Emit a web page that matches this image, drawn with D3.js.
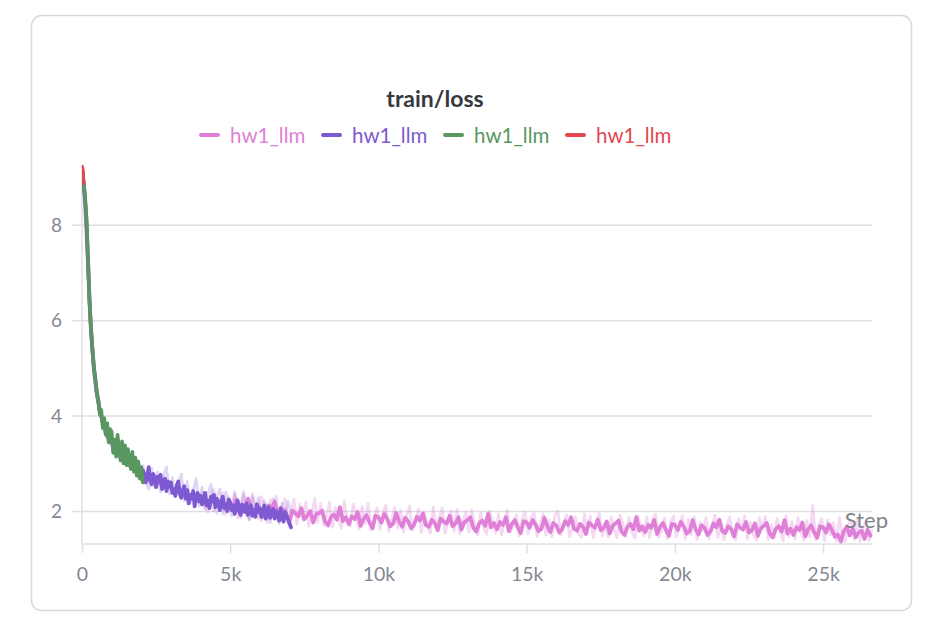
<!DOCTYPE html>
<html><head><meta charset="utf-8">
<script src="https://cdn.jsdelivr.net/npm/d3@7"></script>
<style>
body{margin:0;background:#fff;}
svg text{font-family: Lato, "Noto Sans", "DejaVu Sans", sans-serif;}
</style>
</head><body>
<svg id="chart" width="930" height="640"></svg>
<script>
// ---------------- data ----------------
const chartTitle = "train/loss";
const seriesNames = ["hw1_llm", "hw1_llm", "hw1_llm", "hw1_llm"];
const seriesColors = ["#df7fd8", "#7d5ad2", "#589860", "#e2484e"];
const xTicks = [0, 5000, 10000, 15000, 20000, 25000];
const xTickLabels = ["0", "5k", "10k", "15k", "20k", "25k"];
const yTicks = [2, 4, 6, 8];
const yTickLabels = ["2", "4", "6", "8"];
const xAxisLabel = "Step";

// pink run: main line, one value every 100 steps from step 0
const pinkStart = 0, pinkStride = 100;
const pinkLoss = [
 9.2, 8.5, 7.2, 5.8, 4.95, 4.45, 4.1, 3.85, 3.62, 3.5,
 3.4, 3.3, 3.2, 3.12, 3.05, 3.0, 2.95, 2.9, 2.85, 2.8,
 2.75, 2.72, 2.68, 2.66, 2.62, 2.6, 2.58, 2.55, 2.52, 2.5,
 2.48, 2.45, 2.44, 2.4, 2.38, 2.36, 2.33, 2.32, 2.3, 2.28,
 2.26, 2.25, 2.23, 2.2, 2.22, 2.18, 2.16, 2.2, 2.12, 2.15,
 2.15, 2.05, 2.24, 2.13, 1.98, 2.04, 2.26, 2.06, 1.94, 2.14,
 2.04, 1.88, 1.95, 2.12, 2.05, 2.2, 1.92, 1.87, 2.03, 1.94,
 1.77, 2.01, 1.95, 1.89, 2.06, 1.83, 1.9, 2.0, 1.76, 1.94,
 1.95, 2.01, 1.78, 1.7, 1.88, 1.93, 1.82, 2.08, 1.79, 1.87,
 1.73, 1.89, 1.83, 1.98, 1.69, 1.84, 1.91, 1.76, 1.64, 1.9,
 1.87, 1.76, 1.94, 1.83, 1.68, 1.74, 1.96, 1.78, 1.67, 1.86,
 1.79, 1.64, 1.71, 1.88, 1.8, 1.95, 1.71, 1.67, 1.82, 1.75,
 1.6, 1.84, 1.78, 1.74, 1.9, 1.68, 1.74, 1.87, 1.61, 1.77,
 1.81, 1.87, 1.65, 1.57, 1.74, 1.8, 1.69, 1.94, 1.66, 1.75,
 1.62, 1.77, 1.71, 1.87, 1.58, 1.73, 1.81, 1.66, 1.54, 1.79,
 1.76, 1.65, 1.81, 1.72, 1.58, 1.63, 1.86, 1.68, 1.56, 1.75,
 1.7, 1.55, 1.62, 1.79, 1.71, 1.87, 1.63, 1.59, 1.73, 1.67,
 1.52, 1.76, 1.7, 1.65, 1.82, 1.6, 1.65, 1.78, 1.53, 1.69,
 1.74, 1.8, 1.57, 1.5, 1.67, 1.73, 1.62, 1.87, 1.59, 1.68,
 1.56, 1.71, 1.65, 1.81, 1.52, 1.67, 1.75, 1.6, 1.48, 1.73,
 1.71, 1.6, 1.77, 1.67, 1.53, 1.58, 1.81, 1.62, 1.51, 1.7,
 1.65, 1.5, 1.57, 1.74, 1.66, 1.82, 1.58, 1.54, 1.68, 1.62,
 1.47, 1.72, 1.65, 1.61, 1.77, 1.55, 1.6, 1.74, 1.48, 1.64,
 1.69, 1.75, 1.53, 1.45, 1.62, 1.68, 1.57, 1.81, 1.53, 1.63,
 1.5, 1.66, 1.6, 1.76, 1.47, 1.62, 1.7, 1.55, 1.44, 1.68,
 1.66, 1.55, 1.72, 1.6, 1.46, 1.51, 1.36, 1.58, 1.67, 1.49,
 1.63, 1.45, 1.55, 1.59, 1.42, 1.61, 1.48
];
// pink run: raw (faint) values, every 100 steps from step 4050
const pinkRawStart = 4050, pinkRawStride = 100;
const pinkRawLoss = [
 2.42, 2.1, 1.98, 2.36, 2.46, 1.95, 2.2, 2.38, 1.92, 2.3,
 2.04, 2.4, 1.86, 2.18, 2.34, 1.9, 1.82, 2.36, 2.12, 1.84,
 2.3, 2.02, 1.76, 2.24, 1.96, 2.32, 1.78, 2.1, 2.26, 1.74,
 1.98, 2.25, 1.72, 2.14, 1.8, 2.2, 1.68, 1.94, 2.26, 1.76,
 2.16, 1.7, 1.9, 2.18, 1.66, 2.08, 1.84, 1.64, 2.2, 1.78,
 1.68, 2.14, 1.92, 1.62, 2.1, 1.74, 2.16, 1.6, 1.86, 2.06,
 1.62, 1.95, 2.12, 1.58, 1.82, 2.08, 1.64, 2.02, 1.56, 1.9,
 2.1, 1.6, 1.84, 2.04, 1.55, 1.96, 1.7, 1.54, 2.08, 1.64,
 1.86, 2.06, 1.54, 1.78, 2.0, 1.58, 2.04, 1.52, 1.8, 1.98,
 1.56, 2.02, 1.74, 1.5, 1.96, 1.64, 1.52, 2.0, 1.78, 1.54,
 1.94, 1.5, 1.8, 2.02, 1.56, 1.7, 1.92, 1.48, 1.84, 1.98,
 1.52, 1.86, 1.96, 1.47, 1.72, 1.94, 1.5, 1.82, 1.46, 1.9,
 2.0, 1.5, 1.76, 1.92, 1.46, 1.66, 1.88, 1.52, 1.45, 1.94,
 1.6, 1.9, 1.44, 1.78, 1.95, 1.48, 1.7, 1.46, 1.88, 1.62,
 1.44, 1.92, 1.72, 1.46, 1.86, 1.56, 1.43, 1.9, 1.68, 1.48,
 1.88, 1.44, 1.8, 1.94, 1.45, 1.6, 1.86, 1.42, 1.74, 1.9,
 1.46, 1.7, 1.9, 1.42, 1.82, 1.5, 1.88, 1.41, 1.76, 1.6,
 1.86, 1.42, 1.66, 1.92, 1.44, 1.8, 1.4, 1.7, 1.88, 1.48,
 1.4, 1.84, 1.62, 1.9, 1.42, 1.76, 1.5, 1.39, 1.86, 1.64,
 1.88, 1.4, 1.72, 1.44, 1.84, 1.58, 1.38, 1.9, 1.46, 1.78,
 1.42, 1.86, 1.56, 1.39, 1.8, 1.46, 2.12, 1.4, 1.7, 1.84,
 1.38, 1.82, 1.5, 1.76, 1.37, 1.86, 1.44, 1.36, 1.72, 1.8,
 1.4, 1.84, 1.37, 1.66, 1.78, 1.38, 1.6
];

// purple run: every 50 steps from step 0
const purpleStart = 0, purpleStride = 50;
const purpleLoss = [
 9.2, 8.9, 8.58, 8.1, 7.32, 6.42, 5.86, 5.4, 5.04, 4.74,
 4.5, 4.32, 4.1, 4.0, 3.86, 3.82, 3.7, 3.68, 3.58, 3.55,
 3.45, 3.44, 3.35, 3.36, 3.25, 3.3, 3.18, 3.24, 3.12, 3.15,
 3.05, 3.12, 3.0, 3.04, 2.92, 2.98, 2.86, 2.92, 2.8, 2.86,
 2.68, 2.86, 2.78, 2.6, 2.72, 2.92, 2.64, 2.56, 2.78, 2.68,
 2.5, 2.72, 2.62, 2.76, 2.46, 2.56, 2.68, 2.42, 2.62, 2.52,
 2.6, 2.38, 2.46, 2.32, 2.54, 2.62, 2.36, 2.28, 2.44, 2.52,
 2.26, 2.44, 2.16, 2.34, 2.26, 2.42, 2.1, 2.3, 2.38, 2.2,
 2.32, 2.14, 2.24, 2.38, 2.12, 2.22, 2.06, 2.3, 2.2, 2.34,
 2.08, 2.26, 2.16, 2.02, 2.2, 2.3, 2.06, 2.14, 2.0, 2.24,
 2.18, 2.02, 2.12, 1.94, 2.08, 2.22, 2.0, 1.92, 2.14, 2.06,
 1.98, 2.16, 1.92, 2.06, 2.12, 1.9, 2.02, 1.88, 2.14, 1.98,
 2.06, 1.88, 1.98, 2.12, 1.84, 1.96, 2.08, 1.86, 1.94, 2.04,
 1.84, 2.0, 1.92, 1.8, 2.06, 1.88, 1.78, 1.98, 1.9, 1.82,
 1.74, 1.66
];
// purple run: raw (faint) values, every 100 steps from step 2050
const purpleRawStart = 2050, purpleRawStride = 100;
const purpleRawLoss = [
 2.98, 2.6, 2.46, 2.9, 2.5, 2.82, 2.4, 2.74, 2.92, 2.36,
 2.7, 2.3, 2.56, 2.78, 2.22, 2.62, 2.16, 2.44, 2.68, 2.1,
 2.5, 2.04, 2.38, 2.56, 2.0, 2.3, 2.46, 1.94, 2.4, 2.12,
 1.9, 2.36, 2.18, 1.86, 2.4, 2.06, 1.82, 2.3, 1.96, 2.28,
 1.8, 2.22, 2.04, 1.76, 2.26, 1.94, 1.74, 2.16, 1.86, 2.2,
 1.95
];

// green run: every 50 steps from step 0
const greenStart = 0, greenStride = 50;
const greenLoss = [
 9.2, 8.92, 8.6, 8.12, 7.3, 6.45, 5.85, 5.42, 5.0, 4.8,
 4.45, 4.3, 4.02, 4.12, 3.74, 3.95, 3.6, 3.84, 3.44, 3.72,
 3.66, 3.22, 3.5, 3.14, 3.6, 3.3, 3.06, 3.46, 3.0, 3.38,
 2.96, 3.3, 3.06, 2.88, 3.24, 2.82, 3.12, 2.74, 3.04, 2.68,
 2.92, 2.6
];

// red run: every 10 steps from step 0
const redStart = 0, redStride = 10;
const redLoss = [9.18, 9.22, 9.19, 9.14, 9.05, 8.95, 8.86];

// ---------------- drawing ----------------
const svg = d3.select("#chart");
const plot = {left: 82, right: 872, top: 165, bottom: 544};

const x = d3.scaleLinear().domain([0, 26650]).range([plot.left, plot.right]);
const y = d3.scaleLinear().domain([1.31, 9.25]).range([plot.bottom, plot.top]);

// card
svg.append("rect")
  .attr("x", 31.5).attr("y", 15.5).attr("width", 880).attr("height", 595)
  .attr("rx", 10).attr("fill", "#fff").attr("stroke", "#d9d9dd").attr("stroke-width", 1.5);

const gridColor = "#e0e0e3";
const labelColor = "#858893";

// y grid + ticks
const yAxis = d3.axisLeft(y).tickValues(yTicks)
  .tickFormat((d, i) => yTickLabels[i])
  .tickSize(-(plot.right - plot.left)).tickPadding(10);
const gy = svg.append("g").attr("transform", `translate(${plot.left},0)`).call(yAxis);
gy.select(".domain").remove();
gy.selectAll(".tick line").attr("stroke", gridColor).attr("stroke-width", 1.5).attr("x1", -10);
gy.selectAll(".tick text").attr("fill", labelColor).attr("font-size", 19).attr("dx", -10).attr("dy", "0.34em");

// vertical axis line at x = 0
svg.append("line").attr("x1", x(0)).attr("x2", x(0))
  .attr("y1", plot.top).attr("y2", plot.bottom)
  .attr("stroke", gridColor).attr("stroke-width", 1.5);

// x axis
const xAxis = d3.axisBottom(x).tickValues(xTicks)
  .tickFormat((d, i) => xTickLabels[i]).tickSize(9).tickPadding(14);
const gx = svg.append("g").attr("transform", `translate(0,${plot.bottom})`).call(xAxis);
gx.select(".domain").attr("stroke", gridColor).attr("stroke-width", 1.5)
  .attr("d", `M${plot.left},0H${plot.right}`);
gx.selectAll(".tick line").attr("stroke", gridColor).attr("stroke-width", 1.5);
gx.selectAll(".tick text").attr("fill", labelColor).attr("font-size", 19.5);

// clip
svg.append("clipPath").attr("id", "clip").append("rect")
  .attr("x", plot.left).attr("y", plot.top - 10)
  .attr("width", plot.right - plot.left + 2).attr("height", plot.bottom - plot.top + 10);

const line = d3.line().x(d => x(d[0])).y(d => y(d[1]));
const toPts = (arr, start, stride) => arr.map((v, i) => [start + i * stride, v]);

const g = svg.append("g").attr("clip-path", "url(#clip)");

// faint raw lines
g.append("path").datum(toPts(pinkRawLoss, pinkRawStart, pinkRawStride))
  .attr("d", line).attr("fill", "none").attr("stroke", seriesColors[0])
  .attr("stroke-opacity", 0.3).attr("stroke-width", 2.8).attr("stroke-linejoin", "round");
g.append("path").datum(toPts(purpleRawLoss, purpleRawStart, purpleRawStride))
  .attr("d", line).attr("fill", "none").attr("stroke", seriesColors[1])
  .attr("stroke-opacity", 0.25).attr("stroke-width", 2.8).attr("stroke-linejoin", "round");

// main lines
const mainWidths = [3.8, 3.8, 3.6, 3.2];
const mains = [
  [pinkLoss, pinkStart, pinkStride],
  [purpleLoss, purpleStart, purpleStride],
  [greenLoss, greenStart, greenStride],
  [redLoss, redStart, redStride]
];
mains.forEach((m, i) => {
  g.append("path").datum(toPts(m[0], m[1], m[2]))
    .attr("d", line).attr("fill", "none").attr("stroke", seriesColors[i])
    .attr("stroke-width", mainWidths[i]).attr("stroke-linejoin", "round").attr("stroke-linecap", "round");
});

// Step label
svg.append("text").attr("x", 888).attr("y", 528).attr("text-anchor", "end")
  .attr("fill", "#7f828b").attr("font-size", 22).text(xAxisLabel);

// title
svg.append("text").attr("x", 435).attr("y", 107).attr("text-anchor", "middle")
  .attr("fill", "#36383f").attr("font-size", 23).attr("font-weight", "bold").text(chartTitle);

// legend
const leg = svg.append("g");
seriesNames.forEach((name, i) => {
  const lx = 201 + i * 122;
  leg.append("line").attr("x1", lx).attr("x2", lx + 17).attr("y1", 135).attr("y2", 135)
    .attr("stroke", seriesColors[i]).attr("stroke-width", 4).attr("stroke-linecap", "round");
  leg.append("text").attr("x", lx + 29).attr("y", 143).attr("fill", seriesColors[i])
    .attr("font-size", 20.5).text(name);
});
</script>
</body></html>
